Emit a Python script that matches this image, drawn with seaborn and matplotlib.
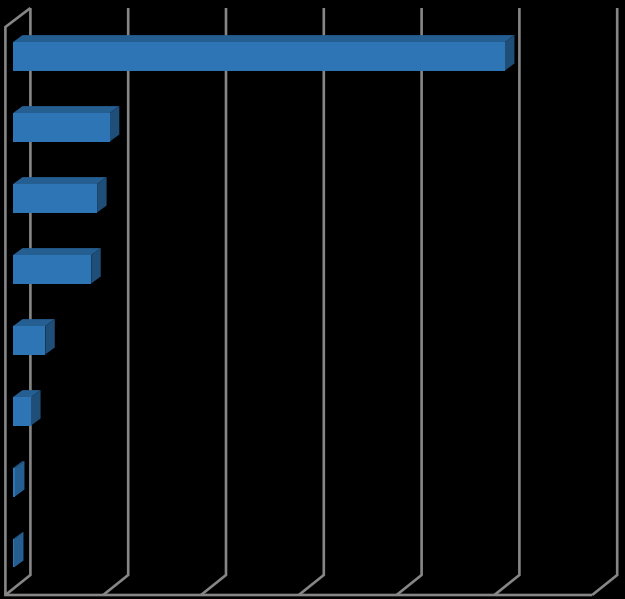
import numpy as np
import pandas as pd
import seaborn as sns
import matplotlib.pyplot as plt
from matplotlib.patches import Polygon

categories = ['A', 'B', 'C', 'D', 'E', 'F', 'G', 'H']
values = [50.3, 9.9, 8.6, 8.0, 3.3, 1.85, 0.2, 0.1]
grid_values = [0, 10, 20, 30, 40, 50, 60]

data = pd.DataFrame({'category': categories, 'value': values})

FRONT = '#2e75b6'
TOP = '#255e91'
SIDE = '#1f4e79'
WALL = '#868686'

sns.set_theme(style='dark', rc={'figure.facecolor': 'black', 'axes.facecolor': 'black'})
fig = plt.figure(figsize=(6.25, 5.99), dpi=100)
ax = fig.add_axes([0, 0, 1, 1])

# pixel scale of the value axis and category axis
px_x = 9.78
px_y = 71.0
y0_px = 56.3
xlim = (-13 / px_x, 612 / px_x)
ylim = ((599 - y0_px) / px_y, -y0_px / px_y)
ax.set_xlim(xlim)
ax.set_ylim(ylim)

# depth of the bars and of the walls, in data units
bar_dx, bar_dy = 9.5 / px_x, -7 / px_y
wall_x = (30.4 - 13) / px_x
front_x = (5.4 - 13) / px_x
wall_top, wall_bottom = (8 - y0_px) / px_y, (575 - y0_px) / px_y
floor = (595 - y0_px) / px_y
left_top = (27 - y0_px) / px_y

for g in grid_values:
    ax.plot([g + wall_x, g + wall_x, g + front_x], [wall_top, wall_bottom, floor],
            color=WALL, lw=1.9, zorder=1, solid_joinstyle='miter', solid_capstyle='butt')
ax.plot([wall_x, front_x, front_x, grid_values[-1] + front_x],
        [wall_top, left_top, floor, floor], color=WALL, lw=1.9, zorder=1,
        solid_joinstyle='miter', solid_capstyle='butt')

sns.barplot(data=data, x='value', y='category', order=categories, orient='h',
            color=FRONT, saturation=1, width=0.4, linewidth=0, edgecolor='none',
            ax=ax, zorder=3)
ax.set_xlim(xlim)
ax.set_ylim(ylim)

# 3d faces built from the bars seaborn drew
for bar in ax.containers[0]:
    x0, w = bar.get_x(), bar.get_width()
    y0, h = bar.get_y(), bar.get_height()
    x1, y1 = x0 + w, y0 + h
    top = [(x0, y0), (x1, y0), (x1 + bar_dx, y0 + bar_dy), (x0 + bar_dx, y0 + bar_dy)]
    side = [(x1, y0), (x1 + bar_dx, y0 + bar_dy), (x1 + bar_dx, y1 + bar_dy), (x1, y1)]
    ax.add_patch(Polygon(top, closed=True, fc=TOP, ec='none', zorder=2))
    ax.add_patch(Polygon(side, closed=True, fc=SIDE if w > 1 else TOP, ec='none', zorder=2))

ax.set_xlabel('')
ax.set_ylabel('')
ax.set_xticks([])
ax.set_yticks([])
for s in ax.spines.values():
    s.set_visible(False)

fig.savefig('out.png', dpi=100, facecolor='black')
